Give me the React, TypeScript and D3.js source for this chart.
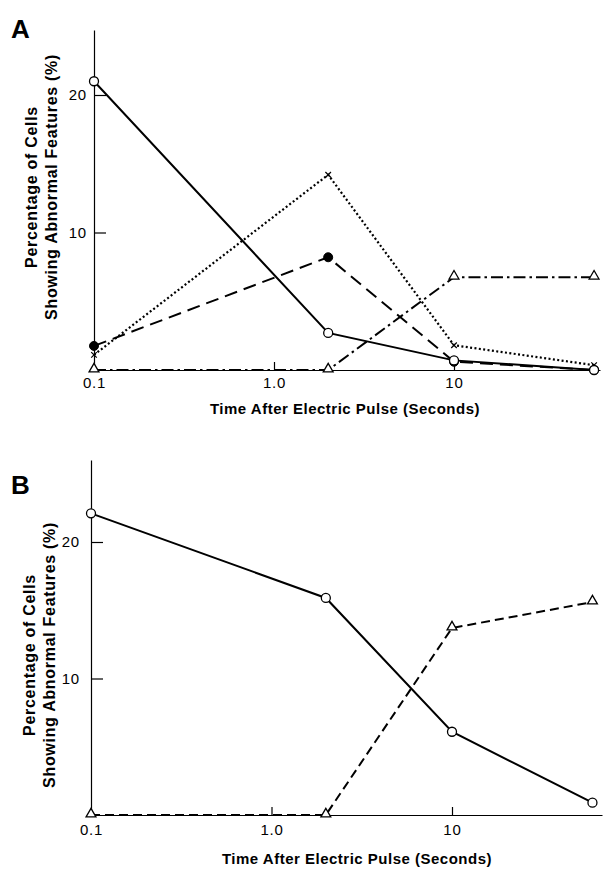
import React, { useEffect, useRef } from 'react'
import * as d3 from 'd3'

const [WIDTH, HEIGHT] = [610, 869]

// sample times (seconds) shared by every series
const times = [0.1, 2, 10, 60]

// panel A series (%)
const aOpenCircle = [21.0, 2.7, 0.7, 0]
const aFilledCircle = [1.75, 8.2, 0.6, 0]
const aCross = [1.1, 14.2, 1.8, 0.35]
const aTriangle = [0, 0, 6.75, 6.75]

// panel B series (%)
const bOpenCircle = [22.1, 15.9, 6.1, 0.9]
const bTriangle = [0, 0, 13.7, 15.6]

const xTickValues = [0.1, 1, 10]
const xTickLabels = ['0.1', '1.0', '10']
const yTickValues = [10, 20]

const FONT = '"Liberation Sans", Arial, sans-serif'

type Series = { values: number[], marker: string, dash: string | null, width: number }

type PanelProps = {
  letter: string
  letterY: number
  x0: number        // pixel of 0.1 s
  decade: number    // pixels per decade
  xEnd: number      // right end of x axis line
  y0: number        // pixel of 0 %
  y20: number       // pixel of 20 %
  yTop: number      // top end of y axis line
  xPad: number
  yPad: number
  yLabelX: [number, number]
  yLabelY: number
  xLabelX: number
  xLabelY: number
  series: Series[]
}

const panels: PanelProps[] = [
  {
    letter: 'A', letterY: 38,
    x0: 94, decade: 180, xEnd: 600,
    y0: 370, y20: 95, yTop: 30,
    xPad: 7, yPad: 7,
    yLabelX: [31, 51], yLabelY: 187,
    xLabelX: 345, xLabelY: 408,
    series: [
      { values: aTriangle, marker: 'triangle', dash: '12,4,2.5,4', width: 2 },
      { values: aCross, marker: 'cross', dash: '2,2.4', width: 2.2 },
      { values: aFilledCircle, marker: 'filled', dash: '13,7', width: 2 },
      { values: aOpenCircle, marker: 'open', dash: null, width: 2 },
    ],
  },
  {
    letter: 'B', letterY: 494,
    x0: 91, decade: 180.5, xEnd: 602,
    y0: 815, y20: 542, yTop: 460,
    xPad: 9, yPad: 11,
    yLabelX: [29, 49], yLabelY: 655,
    xLabelX: 357, xLabelY: 858,
    series: [
      { values: bTriangle, marker: 'triangle', dash: '9,5', width: 2 },
      { values: bOpenCircle, marker: 'open', dash: null, width: 2 },
    ],
  },
]

function Marker({ kind, cx, cy }: { kind: string, cx: number, cy: number }) {
  if (kind === 'open') {
    return <circle cx={cx} cy={cy} r={4.5} fill="white" stroke="black" strokeWidth={1.3} />
  }
  if (kind === 'filled') {
    return <circle cx={cx} cy={cy} r={4.5} fill="black" stroke="black" strokeWidth={1} />
  }
  if (kind === 'triangle') {
    const d = d3.symbol(d3.symbolTriangle, 42)() as string
    return <path d={d} transform={`translate(${cx},${cy - 1})`} fill="white" stroke="black" strokeWidth={1.3} />
  }
  const d = d3.symbol(d3.symbolX, 22)() as string
  return <path d={d} transform={`translate(${cx},${cy})`} fill="none" stroke="black" strokeWidth={1.2} />
}

function Panel(p: PanelProps) {
  const xAxisRef = useRef<SVGGElement>(null)
  const yAxisRef = useRef<SVGGElement>(null)

  const xBase = d3.scaleLog().domain([0.1, 1]).range([p.x0, p.x0 + p.decade])
  const x = d3.scaleLog().domain([0.1, xBase.invert(p.xEnd)]).range([p.x0, p.xEnd])
  const yBase = d3.scaleLinear().domain([0, 20]).range([p.y0, p.y20])
  const y = d3.scaleLinear().domain([0, yBase.invert(p.yTop)]).range([p.y0, p.yTop])

  const line = d3.line<number>()
    .x((_, i) => x(times[i]))
    .y(v => y(v))

  useEffect(() => {
    const xAxis = d3.axisBottom(x)
      .tickValues(xTickValues)
      .tickFormat((_, i) => xTickLabels[i])
      .tickSizeInner(-8)
      .tickSizeOuter(0)
      .tickPadding(p.xPad)
    const yAxis = d3.axisLeft(y)
      .tickValues(yTickValues)
      .tickFormat(d3.format('d'))
      .tickSizeInner(-12)
      .tickSizeOuter(0)
      .tickPadding(p.yPad)
    for (const [ref, axis] of [[xAxisRef, xAxis], [yAxisRef, yAxis]] as const) {
      const g = d3.select(ref.current!)
      g.selectAll('*').remove()
      g.call(axis as any)
        .attr('font-family', FONT)
        .attr('font-size', 15)
      g.selectAll('path.domain').attr('stroke-width', 1.2)
      g.selectAll('.tick line').attr('stroke-width', 1.2)
      g.selectAll('.tick').filter(d => d === 0.1).select('line').remove()
      g.selectAll('.tick text').attr('fill', 'black').attr('letter-spacing', 0.8)
    }
  }, [])

  return (
    <g>
      <text x={11} y={p.letterY} fontFamily={FONT} fontWeight="bold" fontSize={26}>{p.letter}</text>
      <g ref={xAxisRef} transform={`translate(0,${p.y0})`} />
      <g ref={yAxisRef} transform={`translate(${p.x0},0)`} />
      {p.series.map((s, i) => (
        <path key={i} d={line(s.values) as string} fill="none" stroke="black"
          strokeWidth={s.width} strokeDasharray={s.dash ?? undefined} />
      ))}
      {p.series.map((s, i) => (
        <g key={i}>
          {s.values.map((v, j) => <Marker key={j} kind={s.marker} cx={x(times[j])} cy={y(v)} />)}
        </g>
      ))}
      {['Percentage of Cells', 'Showing Abnormal Features (%)'].map((t, i) => (
        <text key={i} transform={`translate(${p.yLabelX[i]},${p.yLabelY}) rotate(-90)`}
          textAnchor="middle" dominantBaseline="central" letterSpacing={0.7}
          fontFamily={FONT} fontWeight="bold" fontSize={16}>{t}</text>
      ))}
      <text x={p.xLabelX} y={p.xLabelY} textAnchor="middle" dominantBaseline="central" letterSpacing={0.5}
        fontFamily={FONT} fontWeight="bold" fontSize={15}>Time After Electric Pulse (Seconds)</text>
    </g>
  )
}

export default function App() {
  return (
    <svg width={WIDTH} height={HEIGHT} style={{ position: 'absolute', left: 0, top: 0, background: 'white' }}>
      {panels.map(p => <Panel key={p.letter} {...p} />)}
    </svg>
  )
}
